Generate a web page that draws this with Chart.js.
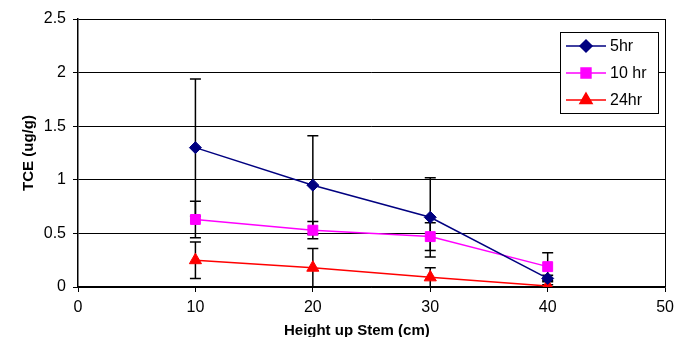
<!DOCTYPE html>
<html><head><meta charset="utf-8">
<script src="https://cdn.jsdelivr.net/npm/chart.js@4"></script>
<style>html,body{margin:0;padding:0;background:#fff}#wrap{width:680px;height:337px}</style>
</head><body><div id="wrap"><canvas id="c" width="680" height="337"></canvas></div>
<script>
const heights = [10, 20, 30, 40];
const seriesNames = ["5hr", "10 hr", "24hr"];
const tce5hr = [1.30, 0.95, 0.65, 0.08];
const tce10hr = [0.63, 0.53, 0.47, 0.19];
const tce24hr = [0.25, 0.18, 0.09, 0.01];
const err5hr = [0.64, 0.46, 0.37, 0.03];
const err10hr = [0.17, 0.08, 0.13, 0.13];
const err24hr = [0.17, 0.18, 0.09, 0.01];
const xTicks = [0, 10, 20, 30, 40, 50];
const yTicks = [0, 0.5, 1, 1.5, 2, 2.5];
const xTitle = "Height up Stem (cm)";
const yTitle = "TCE (ug/g)";

const colors = ["#000080", "#FF00FF", "#FF0000"];
const styles = ["rectRot", "rect", "triangle"];
const radii = [6, 7, 7];
const values = [tce5hr, tce10hr, tce24hr];
const errors = [err5hr, err10hr, err24hr];

const datasets = values.map((vals, i) => ({
  label: seriesNames[i],
  data: heights.map((h, j) => ({x: h, y: vals[j]})),
  errs: errors[i],
  borderColor: colors[i],
  backgroundColor: colors[i],
  pointStyle: styles[i],
  pointRadius: radii[i],
  pointHoverRadius: radii[i],
  pointBorderWidth: 1,
  borderWidth: 1.5,
  showLine: true,
  tension: 0
}));

const FONT = "'Liberation Sans', Arial, sans-serif";

const errorBars = {
  id: 'errorBars',
  beforeDatasetsDraw(chart) {
    const ctx = chart.ctx, xs = chart.scales.x, ys = chart.scales.y;
    ctx.save();
    ctx.strokeStyle = '#000';
    ctx.lineWidth = 1.5;
    chart.data.datasets.forEach(ds => {
      ds.data.forEach((p, j) => {
        const e = ds.errs[j];
        const px = xs.getPixelForValue(p.x);
        const top = ys.getPixelForValue(p.y + e);
        const bot = ys.getPixelForValue(Math.max(0, p.y - e));
        ctx.beginPath();
        ctx.moveTo(px, top); ctx.lineTo(px, bot);
        ctx.moveTo(px - 5.5, top); ctx.lineTo(px + 5.5, top);
        ctx.moveTo(px - 5.5, bot); ctx.lineTo(px + 5.5, bot);
        ctx.stroke();
      });
    });
    ctx.restore();
  }
};

const frameLegend = {
  id: 'frameLegend',
  afterDraw(chart) {
    const ctx = chart.ctx, a = chart.chartArea;
    ctx.save();
    ctx.strokeStyle = '#000';
    ctx.lineWidth = 1;
    ctx.beginPath();
    ctx.moveTo(Math.round(a.right) + 0.5, a.top);
    ctx.lineTo(Math.round(a.right) + 0.5, a.bottom);
    ctx.stroke();
    // axis titles
    ctx.fillStyle = '#000';
    ctx.font = 'bold 15px ' + FONT;
    ctx.textAlign = 'center';
    ctx.textBaseline = 'alphabetic';
    ctx.fillText(xTitle, a.left + (a.right - a.left) * 0.475, 335);
    ctx.save();
    ctx.translate(33, (a.top + a.bottom) / 2);
    ctx.rotate(-Math.PI / 2);
    ctx.fillText(yTitle, 0, 0);
    ctx.restore();
    // legend box
    const bx = 560.5, by = 32.5, bw = 98, bh = 81;
    ctx.fillStyle = '#fff';
    ctx.fillRect(bx, by, bw, bh);
    ctx.strokeRect(bx, by, bw, bh);
    ctx.font = '16px ' + FONT;
    ctx.textAlign = 'left';
    ctx.textBaseline = 'middle';
    chart.data.datasets.forEach((ds, i) => {
      const cy = 46 + i * 27;
      ctx.strokeStyle = ds.borderColor;
      ctx.lineWidth = 1.5;
      ctx.beginPath(); ctx.moveTo(566, cy); ctx.lineTo(606, cy); ctx.stroke();
      ctx.fillStyle = ds.borderColor;
      Chart.helpers.drawPoint(ctx, {pointStyle: ds.pointStyle, radius: ds.pointRadius, borderWidth: 1}, 586, cy);
      ctx.fillStyle = '#000';
      ctx.fillText(ds.label, 610, cy + 1);
    });
    ctx.restore();
  }
};

new Chart(document.getElementById('c'), {
  type: 'scatter',
  data: {datasets},
  plugins: [errorBars, frameLegend],
  options: {
    responsive: false,
    animation: false,
    devicePixelRatio: 1,
    layout: {padding: {left: 0, right: 11, top: 19, bottom: 0}},
    plugins: {legend: {display: false}, tooltip: {enabled: false}},
    scales: {
      x: {
        type: 'linear', min: 0, max: 50,
        afterBuildTicks: s => { s.ticks = xTicks.map(v => ({value: v})); },
        afterFit: s => { s.height = 50; },
        grid: {display: true, drawOnChartArea: false, color: '#000', tickLength: 5, lineWidth: 1},
        border: {display: true, color: '#000', width: 1.5},
        ticks: {color: '#000', font: {family: FONT, size: 16}, padding: 6, maxRotation: 0},
        title: {display: false}
      },
      y: {
        type: 'linear', min: 0, max: 2.5,
        afterBuildTicks: s => { s.ticks = yTicks.map(v => ({value: v})); },
        afterFit: s => { s.width = 78; },
        grid: {display: true, color: '#000', tickLength: 5, lineWidth: 1},
        border: {display: true, color: '#000', width: 1.5},
        ticks: {color: '#000', font: {family: FONT, size: 16}, padding: 7, callback: v => String(v)},
        title: {display: false}
      }
    }
  }
});
</script>
</body></html>
